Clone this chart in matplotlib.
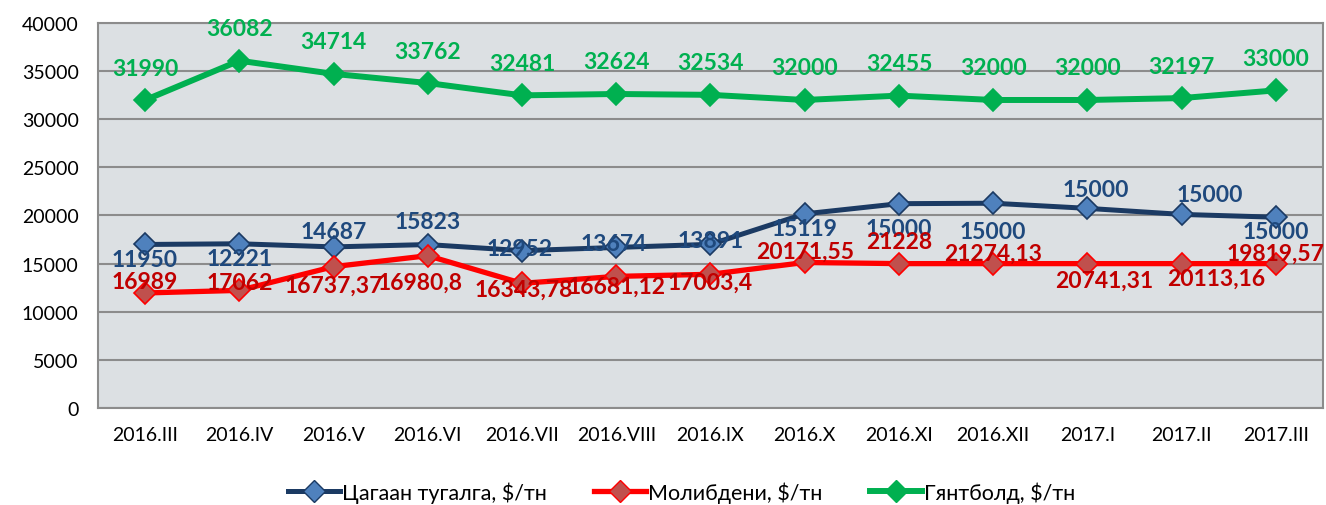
import matplotlib
matplotlib.use("Agg")
import matplotlib.pyplot as plt
from matplotlib.lines import Line2D

plt.rcParams['font.family'] = ['Lato', 'Noto Sans', 'DejaVu Sans']

categories = ["2016.III", "2016.IV", "2016.V", "2016.VI", "2016.VII", "2016.VIII",
              "2016.IX", "2016.X", "2016.XI", "2016.XII", "2017.I", "2017.II", "2017.III"]

tin_values = [16989, 17062, 16737.37, 16980.8, 16343.78, 16681.12, 17003.4,
              20171.55, 21228, 21274.13, 20741.31, 20113.16, 19819.57]
moly_values = [11950, 12221, 14687, 15823, 12952, 13674, 13891,
               15119, 15000, 15000, 15000, 15000, 15000]
tungsten_values = [31990, 36082, 34714, 33762, 32481, 32624, 32534,
                   32000, 32455, 32000, 32000, 32197, 33000]

# Data labels as shown in the source chart (labels are swapped between tin and molybdenum)
tin_labels = ["11950", "12221", "14687", "15823", "12952", "13674", "13891",
              "15119", "15000", "15000", "15000", "15000", "15000"]
moly_labels = ["16989", "17062", "16737,37", "16980,8", "16343,78", "16681,12", "17003,4",
               "20171,55", "21228", "21274,13", "20741,31", "20113,16", "19819,57"]
tungsten_labels = [str(v) for v in tungsten_values]

series_names = ["Цагаан тугалга, $/тн", "Молибдени, $/тн", "Гянтболд, $/тн"]

# label offsets in pixels (dx, dy)
tin_off = [(0, -15), (0, -15), (0, 15), (0, 23), (-2, 2), (-2, 4), (0, 4),
           (0, -15), (0, -25), (0, -28), (8, 19), (28, 20), (0, -14)]
moly_off = [(0, 11), (0, 8), (0, -19), (-8, -27), (2, -6), (0, -10), (0, -8),
            (0, 11), (0, 22), (0, 10), (17, -17), (35, -15), (0, 10)]
tung_off = [(0, 32)] * 13

fig = plt.figure(figsize=(13.26, 5.06), dpi=100)
ax = fig.add_axes([0.0739, 0.1917, 0.9238, 0.7609])
ax.set_facecolor('#DCE0E3')

x = list(range(len(categories)))

navy = '#1B3A63'
blue_fill = '#4F81BD'
red = '#FF0000'
red_fill = '#C0504D'
green = '#00B050'

ax.plot(x, tin_values, color=navy, lw=3.6, marker='D', ms=11, mfc=blue_fill,
        mec=navy, mew=1.2, zorder=4, solid_joinstyle='round')
ax.plot(x, moly_values, color=red, lw=3.8, marker='D', ms=11, mfc=red_fill,
        mec=red, mew=1.2, zorder=4, solid_joinstyle='round')
ax.plot(x, tungsten_values, color=green, lw=4.3, marker='D', ms=11, mfc=green,
        mec=green, mew=1.2, zorder=4, solid_joinstyle='round')

lab_kw = dict(textcoords='offset pixels', ha='center', va='center',
              fontsize=16.5, fontweight='bold', zorder=6)
for i in x:
    ax.annotate(tin_labels[i], (i, tin_values[i]), xytext=tin_off[i], color='#1F497D', **lab_kw)
    ax.annotate(moly_labels[i], (i, moly_values[i]), xytext=moly_off[i], color='#C00000', **lab_kw)
    ax.annotate(tungsten_labels[i], (i, tungsten_values[i]), xytext=tung_off[i], color=green, **lab_kw)

ax.set_xlim(-0.5, len(categories) - 0.5)
ax.set_ylim(0, 40000)
ax.set_yticks(range(0, 40001, 5000))
ax.set_xticks(x)
ax.set_xticklabels(categories)
ax.tick_params(axis='both', length=0, labelsize=14, colors='black')
ax.tick_params(axis='x', pad=13)
ax.tick_params(axis='y', pad=14)
ax.yaxis.grid(True, color='#8C8C8C', lw=1.5)
ax.set_axisbelow(True)
for s in ax.spines.values():
    s.set_color('#8C8C8C')
    s.set_linewidth(1.5)

handles = [
    Line2D([], [], color=navy, lw=3.6, marker='D', ms=11, mfc=blue_fill, mec=navy),
    Line2D([], [], color=red, lw=3.8, marker='D', ms=11, mfc=red_fill, mec=red),
    Line2D([], [], color=green, lw=4.3, marker='D', ms=11, mfc=green, mec=green),
]
fig.legend(handles, series_names, loc='center', bbox_to_anchor=(0.514, 0.026),
           ncol=3, frameon=False, fontsize=15.5, handlelength=2.4, columnspacing=2.2,
           handletextpad=0.1)

fig.savefig('out.png', dpi=100)
